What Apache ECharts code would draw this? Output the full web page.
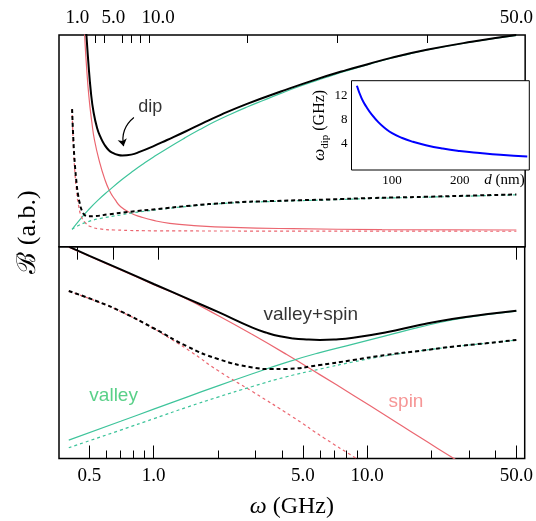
<!DOCTYPE html>
<html><head><meta charset="utf-8">
<script src="https://cdn.jsdelivr.net/npm/echarts@6/dist/echarts.min.js"></script>
<style>html,body{margin:0;padding:0;background:#fff}#c{width:536px;height:521px}</style>
</head><body><div id="c"></div>
<script>
// ---------- top panel (linear omega, GHz) ----------
const topBlackW = [1.7, 2.0, 2.2, 2.5, 2.8, 3.2, 3.6, 4.0, 4.5, 5.0, 5.5, 6.0, 7.0, 8.0, 9.5, 11, 13, 15, 17, 20, 23.7, 27.4, 31, 33.5, 36, 40, 45, 50];
const topBlack  = [118, 100, 88, 73, 63.5, 56.0, 51.5, 48.3, 45.6, 44.2, 43.4, 43.1, 43.5, 44.9, 47.5, 50.4, 54.3, 58.4, 62.3, 67.6, 73.3, 78.7, 83.4, 86.3, 89.2, 93.0, 96.8, 100];
const topGreenW = [0.4, 1.3, 2.2, 3.3, 4.5, 5.9, 7.3, 8.4, 9.5, 11.2, 13, 14.6, 16.3, 18.1, 20, 21.8, 23.7, 25.5, 27.4, 29.2, 31, 33.5, 36, 38, 40, 45, 50];
const topGreen  = [8.2, 12.9, 17.3, 22.0, 26.5, 31.5, 36.0, 39.3, 42.4, 46.9, 51.4, 55.2, 59.0, 62.6, 66.1, 69.2, 72.4, 75.3, 78.1, 80.6, 83.0, 86.1, 89.0, 91.0, 92.9, 96.7, 99.8];
const topRedW   = [1.5, 1.8, 2.0, 2.28, 2.6, 2.9, 3.5, 4.0, 4.55, 5.2, 5.83, 7, 8, 9.5, 11.3, 14, 18.3, 25, 35, 50];
const topRed    = [125, 100, 86, 70.8, 59, 50.4, 39.5, 32.5, 26.7, 22.2, 18.9, 15.8, 14.2, 12.4, 11.0, 10.0, 9.1, 8.5, 8.1, 7.9];
const topBlackDashW = [0.4, 0.55, 0.7, 0.9, 1.05, 1.26, 1.5, 1.8, 2.2, 3, 4.5, 6.9, 10, 13.2, 18, 23, 28.9, 34, 40, 50];
const topBlackDash  = [65, 50, 39.5, 30, 25, 20.4, 17, 15, 14.4, 14.5, 15.3, 16.5, 17.8, 19.2, 20.8, 21.6, 22.3, 23.0, 23.6, 24.7];
const topRedDashW = [0.4, 0.5, 0.6, 0.75, 0.89, 1.1, 1.44, 1.9, 2.53, 3.5, 5.1, 10, 20, 50];
const topRedDash  = [65, 52, 43, 33, 26.7, 20, 14.2, 11.2, 9.4, 8.4, 7.9, 7.5, 7.4, 7.3];
const topGreenDashW = [0.4, 1.0, 2.17, 3.5, 5.83, 7, 10, 13.2, 18, 23, 28.9, 34, 40, 50];
const topGreenDash  = [8.2, 9.8, 11.8, 13.3, 15.0, 15.9, 17.5, 19.0, 20.6, 21.4, 22.1, 22.8, 23.4, 24.5];

// ---------- bottom panel (log omega, GHz) ----------
const botBlackW = [0.4, 0.5, 0.7, 1.0, 1.43, 2.0, 2.9, 3.4, 3.9, 4.5, 5.2, 6, 7, 8.6, 12.3, 17.6, 25, 36, 50];
const botBlack  = [100, 95.7, 89.3, 82.4, 75.6, 69.2, 61.8, 59.3, 57.7, 56.7, 56.2, 56.0, 56.2, 57.0, 59.6, 63.0, 65.9, 68.1, 69.8];
const botRedW   = [0.4, 0.5, 0.7, 1.0, 1.38, 2.0, 2.9, 4.18, 6, 8.6, 12.3, 17.6, 25.5, 30];
const botRed    = [99.8, 95.5, 89.0, 82.1, 76.0, 67.5, 58.5, 49.2, 39.6, 29.9, 20.1, 10.1, 0, -4.5];
const botGreenW = [0.4, 0.7, 1.0, 1.43, 2.0, 2.9, 4.15, 6.0, 8.6, 12.3, 17.6, 25, 36, 50];
const botGreen  = [8.7, 17.6, 23.3, 29.0, 34.3, 40.0, 45.3, 50.0, 54.0, 58.0, 62.0, 65.4, 67.9, 69.6];
const botBlackDashW = [0.4, 0.55, 0.7, 1.0, 1.43, 2.0, 2.9, 3.6, 4.2, 6, 8.6, 12.3, 17.6, 25, 36, 50];
const botBlackDash  = [79.1, 74, 69.5, 61.5, 53, 47, 43.0, 42.2, 42.3, 44.1, 46.5, 48.9, 50.8, 52.8, 54.4, 56.0];
const botRedDashW = [0.4, 0.55, 0.7, 1.0, 1.2, 1.5, 2.0, 2.9, 4.45, 6.3, 8.9, 10.5];
const botRedDash  = [79.0, 73.9, 69.4, 61.3, 56.5, 50.3, 41.5, 31.6, 19.8, 9.6, 0, -4.6];
const botGreenDashW = [0.4, 0.7, 1.0, 1.43, 2.0, 2.9, 4.15, 6.0, 8.6, 12.3, 17.6, 25, 36, 50];
const botGreenDash  = [5.1, 13.4, 18.8, 24.2, 29.0, 34.0, 38.5, 42.2, 45.6, 48.5, 50.8, 52.7, 54.4, 55.9];

// ---------- inset ----------
const insetD     = [48, 55, 62, 70, 80, 90, 100, 115, 130, 150, 175, 200, 230, 260, 300];
const insetOmega = [13.7, 11.6, 10.2, 8.9, 7.6, 6.6, 5.8, 5.0, 4.4, 3.8, 3.25, 2.85, 2.5, 2.2, 1.9];

// ---------- ticks ----------
const topMajorTicks = [1, 5, 10, 50];
const topMinorTicks = [2, 3, 4, 6, 7, 8, 9, 20, 30, 40];
const botMajorTicks = [0.5, 1, 5, 10, 50];
const botMinorTicks = [0.6, 0.7, 0.8, 0.9, 2, 3, 4, 6, 7, 8, 9, 20, 30, 40];
const insetXTicks = [100, 200];
const insetYTicks = [4, 8, 12];

// ---------- annotations ----------
const dipText = ['dip'];
const dipW = [9.13];
const dipV = [65.9];
const arrowFrom = [7.3, 61];
const arrowTo = [6.15, 47.5];
const botAnnotText = ['valley+spin', 'valley', 'spin'];
const botAnnotW = [5.44, 0.649, 15.2];
const botAnnotV = [67.8, 29.7, 26.8];

const SERIF = "'Liberation Serif','DejaVu Serif',serif";
const SANS = "'Liberation Sans','DejaVu Sans',sans-serif";
const BLACK = '#000', RED = '#eb6670', GREEN = '#3ec49b', BLUE = '#0000ff';
const annotColor = {'valley+spin': '#000', 'valley': '#2fc46a', 'spin': '#f47c7c', 'dip': '#000'};

const pair = (xs, ys) => xs.map((x, i) => [x, ys[i]]);
function line(name, xs, ys, color, width, dash, xi, yi) {
  return {
    name, type: 'line', xAxisIndex: xi, yAxisIndex: yi, data: pair(xs, ys),
    showSymbol: false, smooth: 0.5, clip: true, silent: true,
    lineStyle: {color, width, type: dash || 'solid'}
  };
}
const fmt1 = v => Number(v).toFixed(1);

const chart = echarts.init(document.getElementById('c'), null, {renderer: 'canvas'});
const gridBorder = {show: true, borderColor: '#000', borderWidth: 1.5, backgroundColor: 'transparent'};
const option = {
  animation: false,
  backgroundColor: '#fff',
  grid: [
    Object.assign({left: 59, right: 5.5, top: 35, height: 211.7}, gridBorder),
    Object.assign({left: 59, right: 5.5, top: 246.7, height: 211.8}, gridBorder),
    {show: true, left: 351.5, top: 80.7, width: 177.8, height: 89.3, borderColor: '#000', borderWidth: 1, backgroundColor: '#fff', z: 3}
  ],
  xAxis: [
    {gridIndex: 0, type: 'value', position: 'top', min: -1.06, max: 50.98,
      axisLine: {show: false}, splitLine: {show: false},
      axisTick: {inside: true, length: 13, customValues: topMajorTicks, lineStyle: {color: '#000', width: 1}},
      axisLabel: {customValues: topMajorTicks, formatter: fmt1, fontFamily: SERIF, fontSize: 19, color: '#000', margin: 7}},
    {gridIndex: 0, type: 'value', position: 'top', min: -1.06, max: 50.98,
      axisLine: {show: false}, splitLine: {show: false},
      axisTick: {inside: true, length: 8, customValues: topMinorTicks, lineStyle: {color: '#000', width: 1}},
      axisLabel: {show: false}},
    {gridIndex: 1, type: 'log', position: 'bottom', min: 0.36, max: 54.7,
      axisLine: {show: false}, splitLine: {show: false}, minorTick: {show: false},
      axisTick: {inside: true, length: 13, customValues: botMajorTicks, lineStyle: {color: '#000', width: 1}},
      axisLabel: {customValues: botMajorTicks, formatter: fmt1, fontFamily: SERIF, fontSize: 19, color: '#000', margin: 8},
      name: '{i|ω} (GHz)', nameLocation: 'middle', nameGap: 36,
      nameTextStyle: {fontFamily: SERIF, fontSize: 24, color: '#000',
        rich: {i: {fontFamily: SERIF, fontStyle: 'italic', fontSize: 24, color: '#000'}}}},
    {gridIndex: 1, type: 'log', position: 'bottom', min: 0.36, max: 54.7,
      axisLine: {show: false}, splitLine: {show: false},
      axisTick: {inside: true, length: 8, customValues: botMinorTicks, lineStyle: {color: '#000', width: 1}},
      axisLabel: {show: false}},
    {gridIndex: 2, type: 'value', min: 40, max: 303,
      axisLine: {show: false}, splitLine: {show: false},
      axisTick: {inside: true, length: 5, customValues: insetXTicks, lineStyle: {color: '#000', width: 1}},
      axisLabel: {customValues: insetXTicks, fontFamily: SERIF, fontSize: 13, color: '#000', margin: 4},
      name: '{i|d} (nm)', nameLocation: 'end', nameGap: -45,
      nameTextStyle: {fontFamily: SERIF, fontSize: 15, color: '#000', padding: [24, 0, 0, 0],
        rich: {i: {fontFamily: SERIF, fontStyle: 'italic', fontSize: 15, color: '#000'}}}}
  ],
  yAxis: [
    {gridIndex: 0, type: 'value', min: 0, max: 100, show: false},
    {gridIndex: 1, type: 'value', min: 0, max: 100, show: false},
    {gridIndex: 2, type: 'value', min: -0.33, max: 14.55,
      axisLine: {show: false}, splitLine: {show: false},
      axisTick: {inside: true, length: 5, customValues: insetYTicks, lineStyle: {color: '#000', width: 1}},
      axisLabel: {customValues: insetYTicks, fontFamily: SERIF, fontSize: 13, color: '#000', margin: 4},
      name: '{i|ω}{s|dip} (GHz)', nameLocation: 'middle', nameRotate: 90, nameGap: 18,
      nameTextStyle: {fontFamily: SERIF, fontSize: 16, color: '#000', lineHeight: 22,
        rich: {i: {fontFamily: SERIF, fontStyle: 'italic', fontSize: 17, lineHeight: 22, verticalAlign: 'middle', color: '#000'},
               s: {fontFamily: SERIF, fontSize: 11, lineHeight: 22, verticalAlign: 'bottom', color: '#000'}}}}
  ],
  graphic: [
    {type: 'text', x: 28, y: 232, rotation: Math.PI / 2,
      style: {text: 'ℬ (a.b.)', fontFamily: SERIF, fontSize: 26, fill: '#000',
        align: 'center', verticalAlign: 'middle', textAlign: 'center', textVerticalAlign: 'middle'}}
  ],
  series: [
    line('top red', topRedW, topRed, RED, 1.2, null, 0, 0),
    line('top green', topGreenW, topGreen, GREEN, 1.2, null, 0, 0),
    line('top red dashed', topRedDashW, topRedDash, RED, 1.2, [3, 3], 0, 0),
    line('top green dashed', topGreenDashW, topGreenDash, GREEN, 1.2, [3, 3], 0, 0),
    line('top black dashed', topBlackDashW, topBlackDash, BLACK, 2, [4, 3], 0, 0),
    line('top black', topBlackW, topBlack, BLACK, 2, null, 0, 0),
    line('bottom red', botRedW, botRed, RED, 1.2, null, 2, 1),
    line('bottom green', botGreenW, botGreen, GREEN, 1.2, null, 2, 1),
    line('bottom red dashed', botRedDashW, botRedDash, RED, 1.2, [3, 3], 2, 1),
    line('bottom green dashed', botGreenDashW, botGreenDash, GREEN, 1.2, [3, 3], 2, 1),
    line('bottom black dashed', botBlackDashW, botBlackDash, BLACK, 2, [4, 3], 2, 1),
    line('bottom black', botBlackW, botBlack, BLACK, 2, null, 2, 1),
    Object.assign(line('inset', insetD, insetOmega, BLUE, 2, null, 4, 2), {z: 5}),
    {type: 'lines', coordinateSystem: 'cartesian2d', xAxisIndex: 0, yAxisIndex: 0, silent: true,
      symbol: ['none', 'arrow'], symbolSize: 7,
      lineStyle: {color: '#000', width: 1.2, curveness: -0.3, opacity: 1},
      data: [{coords: [arrowFrom, arrowTo]}]},
    {type: 'scatter', xAxisIndex: 0, yAxisIndex: 0, silent: true, symbolSize: 1,
      itemStyle: {color: 'transparent'},
      data: dipText.map((t, i) => ({value: [dipW[i], dipV[i]], label: {formatter: t, color: annotColor[t]}})),
      label: {show: true, position: 'inside', fontFamily: SANS, fontSize: 18}},
    {type: 'scatter', xAxisIndex: 2, yAxisIndex: 1, silent: true, symbolSize: 1,
      itemStyle: {color: 'transparent'},
      data: botAnnotText.map((t, i) => ({value: [botAnnotW[i], botAnnotV[i]], label: {formatter: t, color: annotColor[t]}})),
      label: {show: true, position: 'inside', fontFamily: SANS, fontSize: 19}}
  ]
};
chart.setOption(option);
</script></body></html>
